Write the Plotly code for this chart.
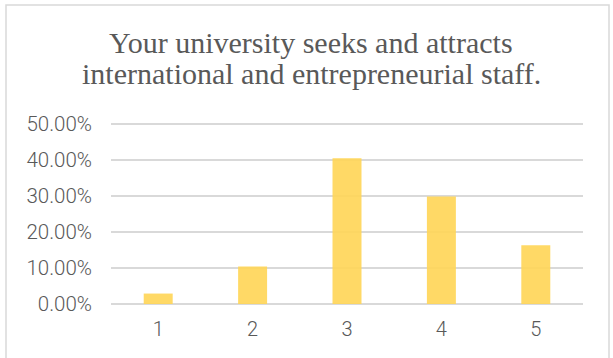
import plotly.graph_objects as go

# Survey response distribution (Likert scale 1-5)
categories = ["1", "2", "3", "4", "5"]
shares = [0.029, 0.104, 0.405, 0.299, 0.163]

title_lines = [
    "Your university seeks and attracts",
    "international and entrepreneurial staff.",
]
y_ticks = [0.0, 0.1, 0.2, 0.3, 0.4, 0.5]

W, H = 613, 358
L, R, T, B = 111, 30, 123, 54
plot_w = W - L - R
plot_h = H - T - B


def px_to_paper_x(px):
    return (px - L) / plot_w


def px_to_paper_y(py):
    return 1 - (py - T) / plot_h


grey = "#595959"
grid = "#D9D9D9"

fig = go.Figure(
    go.Bar(
        x=categories,
        y=shares,
        marker=dict(color="rgba(255,213,85,0.9)", line=dict(width=0)),
        hoverinfo="x+y",
    )
)

fig.update_layout(
    width=W,
    height=H,
    margin=dict(l=L, r=R, t=T, b=B),
    paper_bgcolor="white",
    plot_bgcolor="white",
    bargap=0.693,
    showlegend=False,
    font=dict(family="Roboto", color=grey, size=20),
)

fig.update_xaxes(
    type="category",
    showgrid=False,
    showline=False,
    zeroline=False,
    ticks="",
    tickfont=dict(family="Roboto", size=20, color=grey, weight=300),
    ticklabelstandoff=11,
)

# Top of the range sits just above 50% so its gridline is drawn
fig.update_yaxes(
    range=[0, 0.503],
    tickvals=y_ticks,
    tickformat=".2%",
    showgrid=True,
    gridcolor=grid,
    gridwidth=1.5,
    zeroline=True,
    zerolinecolor=grid,
    zerolinewidth=1.5,
    showline=False,
    ticks="",
    tickfont=dict(family="Roboto", size=20.5, color=grey, weight=300),
    ticklabelstandoff=18,
)

# Two-line chart title with tight line spacing
title_centers = [42.2, 73.1]
for text, cy in zip(title_lines, title_centers):
    fig.add_annotation(
        text=text,
        xref="paper",
        yref="paper",
        x=px_to_paper_x(311),
        y=px_to_paper_y(cy),
        xanchor="center",
        yanchor="middle",
        showarrow=False,
        font=dict(family="Liberation Serif", size=30, color=grey),
    )

# Chart-area border
fig.add_shape(
    type="rect",
    xref="paper",
    yref="paper",
    x0=px_to_paper_x(6),
    x1=px_to_paper_x(609),
    y0=px_to_paper_y(364),
    y1=px_to_paper_y(5),
    line=dict(color=grid, width=1.5),
    fillcolor="rgba(0,0,0,0)",
    layer="below",
)

fig.write_html("out.html")
